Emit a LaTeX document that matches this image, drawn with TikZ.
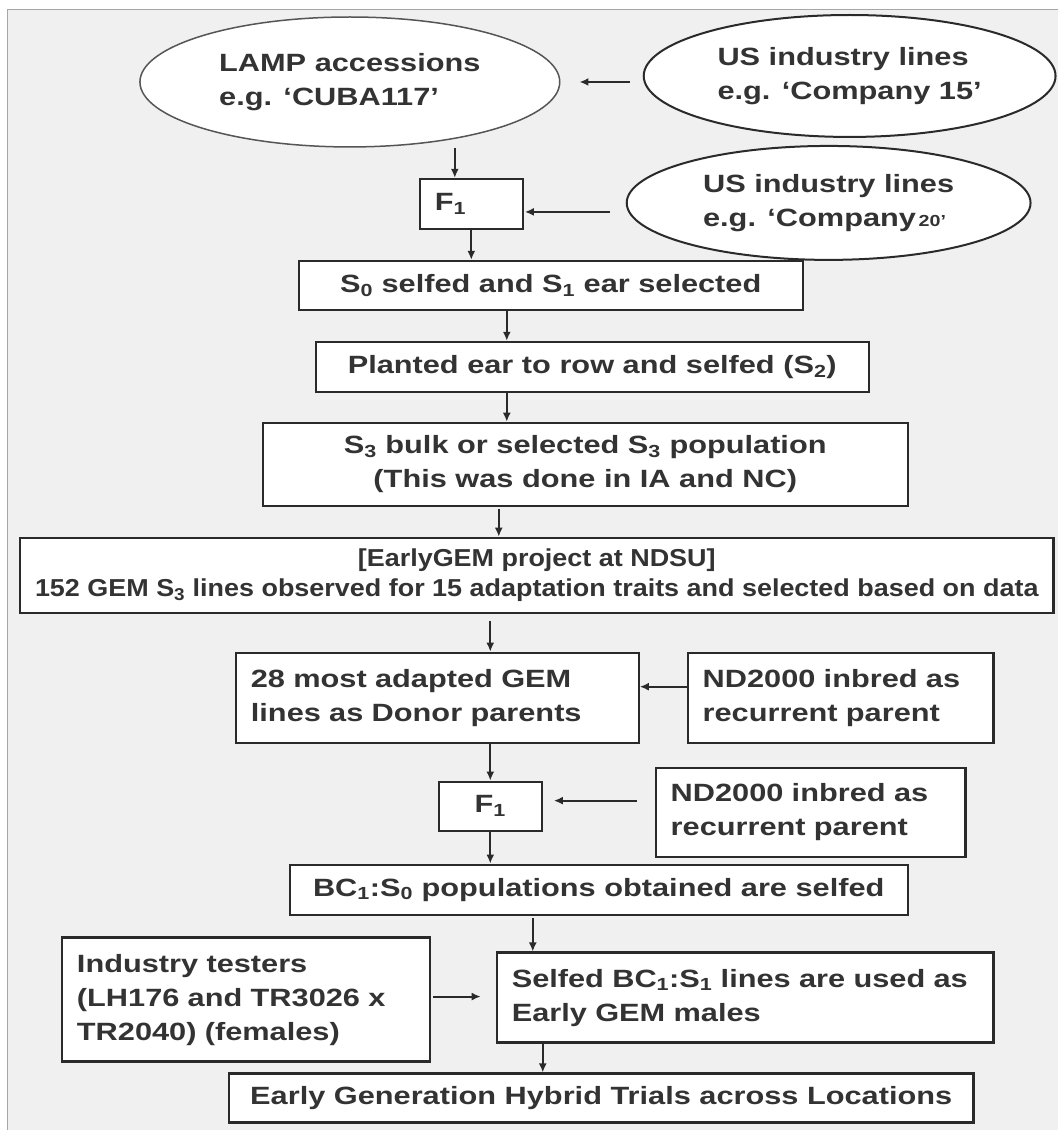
\documentclass[tikz,border=0pt]{standalone}
\usepackage{fontspec}
\setmainfont{Liberation Sans}[FakeStretch=1.23]
\newfontfamily\narrowfont{Liberation Sans}[FakeStretch=1.1]
\usetikzlibrary{arrows.meta,shapes.geometric,calc}
\definecolor{bg}{HTML}{F0F0F0}
\definecolor{ln}{HTML}{2A2A2A}
\definecolor{tx}{HTML}{333333}
\newcommand\sub[1]{\textsubscript{#1}}
\begin{document}
\begin{tikzpicture}[x=1pt,y=-1pt,
  font=\fontsize{25}{34}\selectfont\bfseries, text=tx,
  box/.style={draw=ln, line width=2.2pt, fill=white, inner sep=0pt, rectangle, align=center},
  lbox/.style={box, inner xsep=15pt, align=left},
  oval/.style={draw=ln, line width=2pt, fill=white, ellipse, inner sep=0pt, align=left},
  arr/.style={draw=ln, line width=1.9pt, -{Latex[length=9pt,width=8pt]}}]
\fill[white] (0,0) rectangle (1058,1130);
\fill[bg] (8,9) rectangle (1058,1130);
\draw[gray!70, line width=1pt] (8,1130) -- (8,9) -- (1058,9);
\useasboundingbox (0,0) rectangle (1058,1130);

\node[oval, draw=ln!80, line width=1.5pt, minimum width=420pt, minimum height=130pt] (lamp) at (350,82) {LAMP accessions\\e.g. ‘CUBA117’};
\node[oval, minimum width=412pt, minimum height=122pt] (us1) at (850,76) {US industry lines\\e.g. ‘Company 15’};
\node[box, minimum width=103pt, minimum height=50pt, text width=73pt, inner xsep=15pt, align=left] (f1a) at (471.5,204) {F\sub{1}};
\node[oval, minimum width=404pt, minimum height=114pt] (us2) at (829,203) {US industry lines\\e.g. ‘Company{\fontsize{16}{16}\selectfont\,20’}};
\node[box, minimum width=504pt, minimum height=49pt] (s0) at (551,285.5) {S\sub{0} selfed and S\sub{1} ear selected};
\node[box, minimum width=553pt, minimum height=50pt] (planted) at (592.5,367) {Planted ear to row and selfed (S\sub{2})};
\node[box, minimum width=645pt, minimum height=83pt] (s3) at (585.5,464.5) {S\sub{3} bulk or selected S\sub{3} population\\(This was done in IA and NC)};
\node[box, minimum width=1034pt, minimum height=75pt, font=\narrowfont\fontsize{24.5}{29.5}\selectfont\bfseries] (egem) at (537,575.5) {[EarlyGEM project at NDSU]\\152 GEM S\sub{3} lines observed for 15 adaptation traits and selected based on data};
\node[lbox, text width=373pt, minimum height=90pt] (donor) at (437.5,698) {28 most adapted GEM\\lines as Donor parents};
\node[lbox, text width=276pt, minimum height=90pt] (nd1) at (841,698) {ND2000 inbred as\\recurrent parent};
\node[box, minimum width=103pt, minimum height=49pt] (f1b) at (490.5,806.5) {F\sub{1}};
\node[lbox, text width=280pt, minimum height=89pt] (nd2) at (811,812.5) {ND2000 inbred as\\recurrent parent};
\node[box, minimum width=618pt, minimum height=50pt] (bc) at (599,890) {BC\sub{1}:S\sub{0} populations obtained are selfed};
\node[lbox, text width=338pt, minimum height=124pt] (ind) at (246,1000) {Industry testers\\(LH176 and TR3026 x\\TR2040) (females)};
\node[lbox, text width=467pt, minimum height=90pt] (selfed) at (745.5,998) {Selfed BC\sub{1}:S\sub{1} lines are used as\\Early GEM males};
\node[box, minimum width=745pt, minimum height=49pt] (early) at (601.5,1098.5) {Early Generation Hybrid Trials across Locations};

\draw[arr, shorten <=13pt, shorten >=19pt] (us1.west |- lamp.east) -- (lamp.east);
\coordinate (a1) at ([xshift=-16.5pt]f1a.north);
\draw[arr] (a1 |- lamp.south) -- (a1);
\coordinate (a2) at ([yshift=-8pt]f1a.east);
\draw[arr, shorten <=16pt, shorten >=1pt] (us2.west |- a2) -- (a2);
\draw[arr] (f1a.south) -- (f1a.south |- s0.north);
\coordinate (a3) at ([xshift=-44pt]s0.south);
\draw[arr] (a3) -- (a3 |- planted.north);
\draw[arr] (a3 |- planted.south) -- (a3 |- s3.north);
\coordinate (a4) at ([xshift=-86.5pt]s3.south);
\draw[arr, shorten <=2pt] (a4) -- (a4 |- egem.north);
\draw[arr, shorten <=7pt] (f1b.north |- egem.south) -- (f1b.north |- donor.north);
\coordinate (a6) at ([yshift=11pt]nd1.west);
\draw[arr] (a6) -- (a6 -| donor.east);
\draw[arr] (f1b.north |- donor.south) -- (f1b.north);
\coordinate (a7) at ([yshift=5.5pt]f1b.east);
\draw[arr, shorten <=18pt, shorten >=11pt] (nd2.west |- a7) -- (a7);
\draw[arr] (f1b.south) -- (f1b.south |- bc.north);
\coordinate (a8) at ([xshift=-212.5pt]selfed.north);
\draw[arr, shorten <=2pt] (a8 |- bc.south) -- (a8);
\coordinate (a9) at ([yshift=3pt]ind.east);
\draw[arr, shorten <=2pt, shorten >=15pt] (a9) -- (a9 -| selfed.west);
\coordinate (a10) at ([xshift=-202.5pt]selfed.south);
\draw[arr] (a10) -- (a10 |- early.north);
\end{tikzpicture}
\end{document}
